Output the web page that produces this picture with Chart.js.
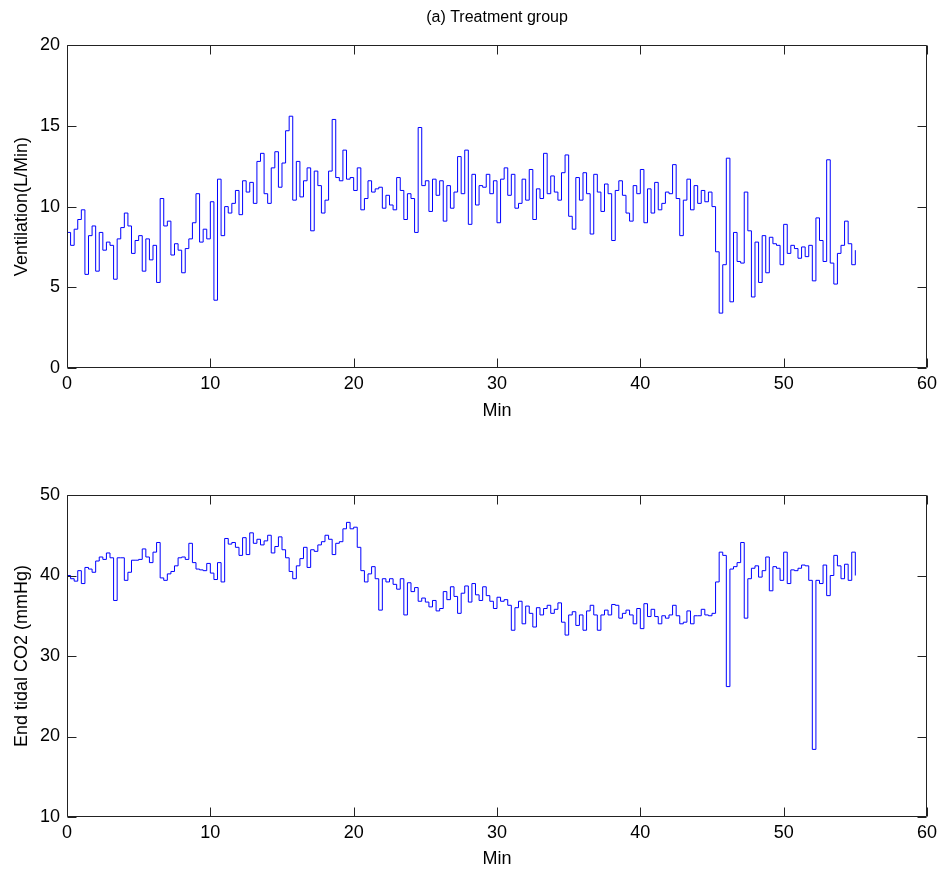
<!DOCTYPE html>
<html>
<head>
<meta charset="utf-8">
<title>Treatment group</title>
<script src="https://cdn.jsdelivr.net/npm/chart.js@4.4.0/dist/chart.umd.min.js"></script>
<style>
  body { margin: 0; background: #fff; }
  .panel { position: absolute; left: 0; width: 942px; height: 440px; }
</style>
</head>
<body>
<div class="panel" style="top:0"><canvas id="ventChart"></canvas></div>
<div class="panel" style="top:440px"><canvas id="co2Chart"></canvas></div>
<script>
// one reading every quarter minute, 0 to 55 min
var SAMPLE_STEP = 0.25;

// Ventilation (L/Min)
var ventilation = [
  8.4, 7.6, 8.6, 9.2, 9.8, 5.8, 8.2, 8.8, 6.0, 8.4, 7.3, 7.8, 7.6, 5.5, 8.0, 8.7, 9.6, 8.8, 7.1, 7.9,
  8.2, 6.0, 8.0, 6.7, 7.6, 5.3, 10.5, 8.8, 9.1, 7.0, 7.7, 7.3, 5.9, 7.4, 8.0, 9.0, 10.8, 7.8, 8.6,
  8.0, 10.3, 4.2, 11.7, 8.2, 10.0, 9.6, 10.2, 11.0, 9.5, 11.6, 10.9, 11.5, 10.2, 12.8, 13.3, 10.8, 10.2, 12.4, 13.4,
  11.2, 12.7, 14.7, 15.6, 10.4, 12.8, 10.6, 11.6, 12.4, 8.5, 12.2, 11.3, 9.6, 10.4, 12.2, 15.4, 11.8, 11.6, 13.5,
  11.7, 11.8, 11.0, 12.4, 9.8, 10.5, 11.6, 10.9, 11.1, 11.2, 9.9, 10.7, 10.1, 9.8, 11.8, 11.0, 9.2, 10.8, 10.5, 8.4,
  14.9, 11.3, 11.6, 9.7, 11.7, 10.7, 11.6, 9.1, 11.3, 9.9, 10.9, 13.1, 10.8, 13.5, 8.9, 12.0, 10.1, 11.3, 11.2,
  12.0, 10.8, 11.6, 9.0, 11.7, 12.4, 10.7, 12.0, 9.9, 10.2, 11.7, 10.4, 12.3, 9.2, 11.1, 10.5, 13.3, 10.8, 11.9, 10.9,
  10.4, 12.1, 13.2, 9.4, 8.6, 11.8, 10.4, 12.1, 10.8, 8.3, 12.0, 10.9, 9.7, 11.4, 10.8, 7.9, 11.0, 11.6, 10.7,
  9.6, 9.1, 11.3, 10.8, 12.3, 9.0, 11.1, 9.6, 11.5, 9.8, 10.2, 10.9, 10.8, 12.6, 10.5, 8.2, 10.4, 11.7, 9.8, 11.3,
  10.2, 11.0, 10.3, 10.9, 10.0, 7.2, 3.4, 6.4, 13.0, 4.1, 8.4, 6.6, 6.5, 10.9, 8.5, 4.4, 7.8, 5.3, 8.2,
  5.9, 8.1, 7.7, 7.6, 6.4, 8.9, 7.1, 7.6, 7.4, 6.8, 7.5, 6.9, 7.6, 5.4, 9.3, 7.9, 6.6, 12.9, 6.5, 5.2,
  7.1, 7.6, 9.1, 7.7, 6.4, 7.3
];

// End tidal CO2 (mmHg)
var endTidalCO2 = [
  40.0, 39.6, 39.3, 40.6, 39.0, 41.0, 40.8, 40.4, 41.8, 42.3, 42.0, 42.8, 42.2, 36.9, 42.2, 42.2, 39.4, 40.4, 41.9, 41.9,
  42.0, 43.3, 42.3, 41.6, 42.9, 44.1, 39.7, 39.4, 40.2, 40.5, 41.2, 42.2, 42.3, 42.0, 44.0, 41.6, 40.8, 40.7, 40.6,
  41.5, 40.3, 39.5, 41.6, 39.2, 44.6, 43.9, 44.1, 43.5, 42.5, 44.7, 42.6, 45.3, 44.0, 44.5, 43.8, 44.3, 45.0, 42.8, 43.6,
  44.8, 43.2, 42.2, 40.5, 39.6, 41.2, 42.1, 43.5, 41.0, 43.2, 43.0, 43.8, 44.2, 45.0, 44.5, 42.6, 44.0, 44.2, 45.8,
  46.6, 45.8, 46.0, 43.5, 40.6, 39.2, 40.2, 41.1, 39.6, 35.7, 39.6, 39.2, 39.6, 38.9, 38.3, 39.6, 35.1, 39.1, 38.0, 38.5,
  36.8, 37.2, 36.7, 36.1, 36.9, 35.6, 35.9, 38.0, 37.0, 38.6, 37.4, 35.3, 37.8, 38.7, 36.7, 39.0, 37.6, 36.9, 38.6,
  37.5, 36.8, 35.9, 37.3, 36.8, 37.0, 36.3, 33.2, 36.0, 36.8, 34.0, 36.2, 35.3, 33.6, 36.0, 35.1, 35.9, 36.3, 35.3, 35.8,
  36.6, 34.2, 32.6, 35.1, 35.5, 33.8, 35.1, 33.2, 35.6, 36.3, 35.1, 33.2, 35.1, 35.7, 35.1, 36.4, 36.3, 34.7, 35.3,
  35.7, 35.1, 34.0, 35.9, 33.4, 36.5, 34.9, 35.8, 34.9, 34.0, 35.0, 34.7, 35.1, 36.3, 35.0, 34.0, 34.2, 35.6, 34.0, 35.0,
  35.0, 35.8, 35.1, 35.0, 35.3, 39.2, 42.9, 42.5, 26.2, 40.8, 41.1, 41.6, 44.1, 34.7, 39.6, 40.9, 41.2, 39.8, 40.6,
  42.3, 38.1, 41.1, 40.9, 39.4, 42.9, 39.0, 40.7, 40.6, 40.9, 41.3, 41.2, 39.4, 18.4, 39.4, 39.0, 41.3, 37.5, 40.0, 42.5,
  41.2, 39.6, 41.4, 39.4, 42.9, 40.0
];

var minuteTicks = [0, 10, 20, 30, 40, 50, 60];
var ventTicks = [0, 5, 10, 15, 20];
var co2Ticks = [10, 20, 30, 40, 50];

var FONT = 'Liberation Sans, Arial, Helvetica, sans-serif';
Chart.defaults.font.family = FONT;
Chart.defaults.color = '#000';

function toPoints(values) {
  var pts = [];
  for (var i = 0; i < values.length; i++) {
    pts.push({ x: i * SAMPLE_STEP, y: values[i] });
  }
  return pts;
}

// matlab style: full box and short ticks pointing inward on all four sides
var TICK_LEN = 9;
var boxAxes = {
  id: 'boxAxes',
  afterDatasetsDraw: function(chart) {
    var ctx = chart.ctx, a = chart.chartArea;
    var xs = chart.scales.x, ys = chart.scales.y;
    var l = Math.round(a.left) + 0.5, r = Math.round(a.right) - 0.5;
    var t = Math.round(a.top) + 0.5, b = Math.round(a.bottom) - 0.5;
    ctx.save();
    ctx.strokeStyle = '#222';
    ctx.lineWidth = 1;
    ctx.beginPath();
    ctx.rect(l, t, r - l, b - t);
    xs.ticks.forEach(function(tk) {
      var px = Math.round(xs.getPixelForValue(tk.value)) + 0.5;
      ctx.moveTo(px, b); ctx.lineTo(px, b - TICK_LEN);
      ctx.moveTo(px, t); ctx.lineTo(px, t + TICK_LEN);
    });
    ys.ticks.forEach(function(tk) {
      var py = Math.round(ys.getPixelForValue(tk.value)) + 0.5;
      ctx.moveTo(l, py); ctx.lineTo(l + TICK_LEN, py);
      ctx.moveTo(r, py); ctx.lineTo(r - TICK_LEN, py);
    });
    ctx.stroke();
    ctx.restore();
  }
};

function makePanel(canvasId, values, yTicks, yLabel, opts) {
  return new Chart(document.getElementById(canvasId), {
    type: 'line',
    data: {
      datasets: [{
        data: toPoints(values),
        borderColor: '#0000ff',
        borderWidth: 1,
        pointRadius: 0,
        stepped: true,
        fill: false
      }]
    },
    options: {
      responsive: true,
      maintainAspectRatio: false,
      animation: false,
      layout: { padding: { left: 0, right: 15, top: opts.padTop, bottom: 0 } },
      plugins: {
        legend: { display: false },
        tooltip: { enabled: false },
        title: {
          display: !!opts.title,
          text: opts.title || '',
          fullSize: false,
          font: { size: 16, weight: 'normal' },
          padding: { top: 8, bottom: 18 }
        }
      },
      scales: {
        x: {
          type: 'linear',
          min: minuteTicks[0],
          max: minuteTicks[minuteTicks.length - 1],
          afterBuildTicks: function(s) { s.ticks = minuteTicks.map(function(v) { return { value: v }; }); },
          afterFit: function(s) { s.height = opts.xHeight; },
          grid: { display: false, drawTicks: false },
          border: { display: false },
          ticks: { font: { size: 18 }, padding: 5, maxRotation: 0 },
          title: { display: true, text: 'Min', font: { size: 18 }, padding: { bottom: opts.minPad } }
        },
        y: {
          type: 'linear',
          min: yTicks[0],
          max: yTicks[yTicks.length - 1],
          afterBuildTicks: function(s) { s.ticks = yTicks.map(function(v) { return { value: v }; }); },
          afterFit: function(s) { s.width = 67; },
          grid: { display: false, drawTicks: false },
          border: { display: false },
          ticks: { font: { size: 18 }, padding: 7 },
          title: { display: true, text: yLabel, font: { size: 18 }, padding: { top: 11 } }
        }
      }
    },
    plugins: [boxAxes]
  });
}

makePanel('ventChart', ventilation, ventTicks, 'Ventilation(L/Min)',
  { title: '(a) Treatment group', padTop: 0, xHeight: 72, minPad: 18 });
makePanel('co2Chart', endTidalCO2, co2Ticks, 'End tidal CO2 (mmHg)',
  { padTop: 55, xHeight: 63, minPad: 10 });
</script>
</body>
</html>
